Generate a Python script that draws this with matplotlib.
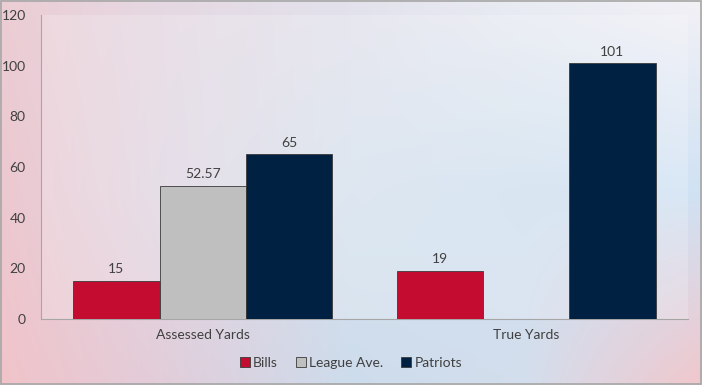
"""
plot.py
=======
Bills vs Patriots yards chart, assessed vs true.
"""

import matplotlib
matplotlib.use("Agg")
import matplotlib.pyplot as plt
import matplotlib.patches as mpatches
import numpy as np

CATEGORIES = ["Assessed Yards", "True Yards"]
SERIES = ["Bills", "League Ave.", "Patriots"]
BILLS = [15, 19]
LEAGUE_AVE = [52.57, np.nan]
PATRIOTS = [65, 101]
VALUE_LABELS = [["15", "19"], ["52.57", ""], ["65", "101"]]
Y_TICKS = [0, 20, 40, 60, 80, 100, 120]

COLORS = ["#C30C30", "#BFBFBF", "#012143"]
TEXT_COLOR = "#404040"

plt.rcParams["font.family"] = ["Lato", "DejaVu Sans"]

fig = plt.figure(figsize=(7.02, 3.85), dpi=100)

# Background gradient across the whole figure (control points: 3 rows x 5 cols)
grad = np.array([
    [[236, 205, 212], [229, 217, 227], [227, 226, 236], [234, 236, 243], [243, 241, 246]],
    [[237, 200, 208], [224, 216, 228], [214, 226, 238], [208, 225, 240], [208, 226, 244]],
    [[241, 195, 201], [225, 206, 219], [205, 220, 236], [212, 222, 237], [241, 199, 204]],
], dtype=float) / 255.0
bg = fig.add_axes([0, 0, 1, 1], zorder=-10)
bg.imshow(grad, aspect="auto", interpolation="bilinear", extent=[-0.125, 1.125, -0.25, 1.25])
bg.set_xlim(0, 1)
bg.set_ylim(0, 1)
bg.axis("off")
fig.patches.append(mpatches.Rectangle((0.001, 0.002), 0.997, 0.995, transform=fig.transFigure,
                                      fill=False, edgecolor="#A6A6A6", linewidth=1.2))

ax = fig.add_axes([0.0584, 0.1714, 0.9216, 0.7896])
ax.set_facecolor((1, 1, 1, 0.2))

x = np.arange(len(CATEGORIES))
width = 0.8 / 3
for i, (name, vals) in enumerate(zip(SERIES, [BILLS, LEAGUE_AVE, PATRIOTS])):
    pos = x + (i - 1) * width
    ax.bar(pos, vals, width, color=COLORS[i], edgecolor="#3A3A3A", linewidth=0.6, label=name, zorder=3)
    for p, v, lab in zip(pos, vals, VALUE_LABELS[i]):
        if lab:
            ax.text(p, v + 2.2, lab, ha="center", va="bottom", fontsize=10, color=TEXT_COLOR)

ax.set_xlim(-0.5, 1.5)
ax.set_ylim(0, 120)
ax.set_yticks(Y_TICKS)
ax.set_xticks(x)
ax.set_xticklabels(CATEGORIES)
ax.tick_params(axis="both", length=0, labelsize=10, labelcolor=TEXT_COLOR)
ax.tick_params(axis="x", pad=7)
ax.tick_params(axis="y", pad=11)
for s in ["top", "right"]:
    ax.spines[s].set_visible(False)
ax.spines["left"].set_color("#A6A6A6")
ax.spines["bottom"].set_color("#A6A6A6")

handles = [mpatches.Patch(facecolor=c, edgecolor="#3A3A3A", linewidth=0.6, label=n) for c, n in zip(COLORS, SERIES)]
leg = fig.legend(handles=handles, loc="center", bbox_to_anchor=(0.5, 0.057), ncol=3, frameon=False,
                 fontsize=10, handlelength=0.7, handleheight=0.7, handletextpad=0.25, columnspacing=1.3)
for t in leg.get_texts():
    t.set_color(TEXT_COLOR)

fig.savefig("out.png", dpi=100)
